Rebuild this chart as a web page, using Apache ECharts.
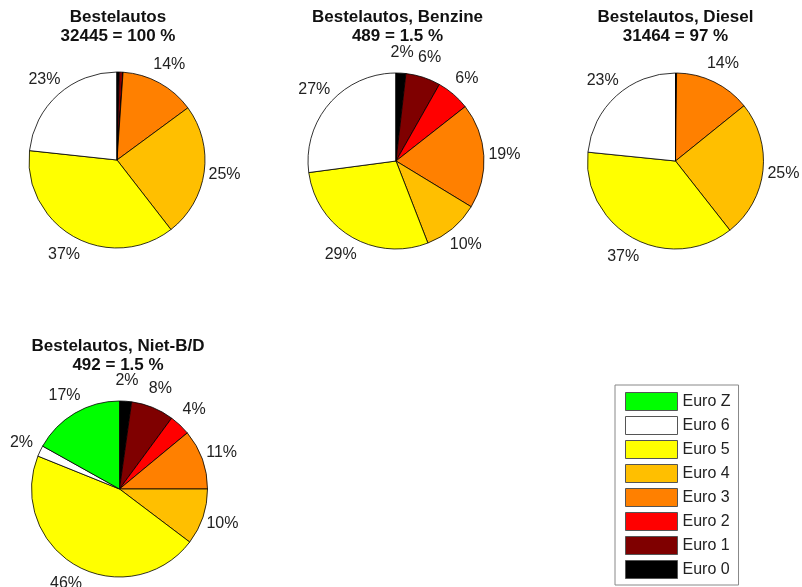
<!DOCTYPE html>
<html>
<head>
<meta charset="utf-8">
<script src="https://cdn.jsdelivr.net/npm/echarts@6/dist/echarts.min.js"></script>
<style>
html,body{margin:0;padding:0;background:#fff;}
#chart{width:802px;height:587px;}
</style>
</head>
<body>
<div id="chart"></div>
<script>
// Categories (clockwise from 12 o'clock)
const categories = ['Euro 0', 'Euro 1', 'Euro 2', 'Euro 3', 'Euro 4', 'Euro 5', 'Euro 6', 'Euro Z'];
// Shares (%) per category
const valsAll    = [0.4, 0.7, 0, 13.8, 24.6, 37.2, 23.3, 0];
const valsBenzine = [1.8, 6.4, 6.2, 19.3, 10.4, 28.8, 27.1, 0];
const valsDiesel  = [0.1, 0.1, 0, 14.0, 25.2, 37.2, 23.4, 0];
const valsOther   = [2.2, 7.9, 3.9, 11.0, 10.3, 45.8, 2.0, 16.9];
const titles = [
  'Bestelautos\n32445 = 100 %',
  'Bestelautos, Benzine\n489 = 1.5 %',
  'Bestelautos, Diesel\n31464 = 97 %',
  'Bestelautos, Niet-B/D\n492 = 1.5 %'
];
const legendOrder = ['Euro Z', 'Euro 6', 'Euro 5', 'Euro 4', 'Euro 3', 'Euro 2', 'Euro 1', 'Euro 0'];

const colors = {
  'Euro 0': '#000000', 'Euro 1': '#7f0000', 'Euro 2': '#ff0000', 'Euro 3': '#ff8000',
  'Euro 4': '#ffbf00', 'Euro 5': '#ffff00', 'Euro 6': '#ffffff', 'Euro Z': '#00ff00'
};
const FONT = 'Arial, "Liberation Sans", sans-serif';
const R = 88;
const centers = [[117, 160], [396, 161], [675.5, 161], [119.5, 489]];
const titleTops = [8, 8, 8, 336.5];
const titleX = [118, 397.5, 675.5, 118];
const allVals = [valsAll, valsBenzine, valsDiesel, valsOther];

function mkData(vals) {
  return categories.map((c, i) => ({ name: c, value: vals[i], itemStyle: { color: colors[c] } }));
}

const series = [];
allVals.forEach((vals, k) => {
  series.push({
    type: 'pie',
    center: centers[k],
    radius: R,
    startAngle: 90,
    clockwise: true,
    label: { show: false },
    labelLine: { show: false },
    itemStyle: { borderColor: '#000', borderWidth: 0.8 },
    emphasis: { disabled: true },
    data: mkData(vals)
  });
});
// label rings: labels centred at 1.2 * radius
allVals.forEach((vals, k) => {
  series.push({
    type: 'pie',
    center: centers[k],
    radius: [0, R * 2.4],
    startAngle: 90,
    clockwise: true,
    silent: true,
    legendHoverLink: false,
    emphasis: { disabled: true },
    itemStyle: { color: 'rgba(0,0,0,0)', borderWidth: 0 },
    labelLine: { show: false },
    label: {
      show: true,
      position: 'inside',
      fontFamily: FONT,
      fontSize: 16,
      color: '#222',
      formatter: p => (p.value >= 1 ? Math.round(p.value) + '%' : '')
    },
    data: categories.map((c, i) => ({ name: c, value: vals[i] }))
  });
});

const chart = echarts.init(document.getElementById('chart'), null, { renderer: 'canvas' });
chart.setOption({
  backgroundColor: '#fff',
  animation: false,
  title: titles.map((t, k) => ({
    text: t,
    left: titleX[k],
    top: titleTops[k],
    textAlign: 'center',
    padding: 0,
    textStyle: { fontFamily: FONT, fontSize: 17, fontWeight: 'bold', color: '#111', lineHeight: 19 }
  })),
  legend: {
    orient: 'vertical',
    left: 615,
    top: 385,
    height: 198,
    padding: [7, 8, 6, 10],
    itemWidth: 52,
    itemHeight: 18,
    itemGap: 5,
    borderColor: '#888',
    borderWidth: 1,
    selectedMode: false,
    icon: 'rect',
    data: legendOrder,
    itemStyle: { borderColor: '#555', borderWidth: 1 },
    textStyle: { fontFamily: FONT, fontSize: 16, lineHeight: 18, color: '#222' }
  },
  series: series
});
</script>
</body>
</html>
